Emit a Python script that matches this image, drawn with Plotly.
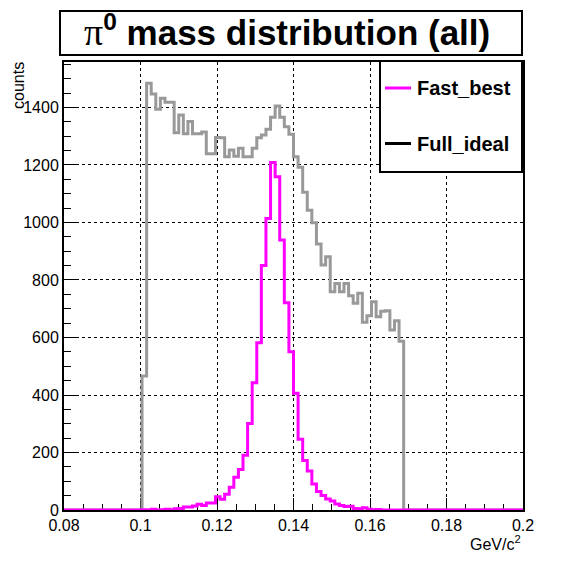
import numpy as np
import plotly.graph_objects as go

# pi0 mass, 100 bins between 0.08 and 0.2 GeV/c^2
bin_lo = 0.08
bin_hi = 0.2
n_bins = 100

full_ideal = [0, 0, 0, 0, 0, 0, 0, 0, 0, 0,
              0, 0, 0, 0, 0, 0, 0, 466, 1484, 1447,
              1394, 1432, 1418, 1418, 1312, 1374, 1309, 1351, 1309, 1309,
              1315, 1239, 1239, 1296, 1295, 1229, 1252, 1230, 1258, 1229,
              1229, 1258, 1295, 1304, 1324, 1366, 1405, 1366, 1333, 1307,
              1229, 1192, 1105, 1043, 999, 925, 852, 881, 759, 788,
              759, 788, 745, 719, 754, 653, 676, 724, 672, 691,
              693, 626, 658, 587, 0, 0, 0, 0, 0, 0,
              0, 0, 0, 0, 0, 0, 0, 0, 0, 0,
              0, 0, 0, 0, 0, 0, 0, 0, 0, 0]

fast_best = [0, 0, 0, 0, 0, 0, 0, 0, 0, 0,
             0, 0, 0, 0, 0, 0, 0, 1, 0, 3,
             0, 1, 3, 1, 4, 5, 10, 10, 14, 20,
             16, 24, 24, 46, 37, 55, 79, 114, 141, 190,
             301, 443, 582, 850, 1014, 1209, 1159, 939, 721, 550,
             406, 246, 172, 136, 90, 64, 50, 38, 31, 21,
             16, 12, 13, 5, 4, 8, 3, 1, 2, 0,
             0, 0, 0, 0, 0, 0, 0, 0, 0, 0,
             0, 0, 0, 0, 0, 0, 0, 0, 0, 0,
             0, 0, 0, 0, 0, 0, 0, 0, 0, 0]

edges = np.linspace(bin_lo, bin_hi, n_bins + 1)
font = "Liberation Sans"


def step(counts):
    # ROOT-like outline: value held over each bin
    return list(counts) + [counts[-1]]


fig = go.Figure()
fig.add_trace(go.Scatter(x=edges, y=step(full_ideal), mode="lines", line_shape="hv",
                         line=dict(color="#999999", width=3), name="Full_ideal"))
fig.add_trace(go.Scatter(x=edges, y=step(fast_best), mode="lines", line_shape="hv",
                         line=dict(color="#ff00ff", width=3), name="Fast_best"))

ymax = 1.05 * max(full_ideal)

fig.update_xaxes(range=[bin_lo, bin_hi], tick0=0.08, dtick=0.02,
                 ticks="inside", ticklen=12, tickwidth=1, tickcolor="black",
                 minor=dict(ticks="inside", ticklen=6, dtick=0.005, tickcolor="black", showgrid=False),
                 showline=True, linecolor="black", linewidth=2, mirror=True,
                 showgrid=True, gridcolor="black", griddash="dot", gridwidth=1,
                 zeroline=False, layer="below traces",
                 tickfont=dict(family=font, size=16, color="black"))
fig.update_yaxes(range=[0, ymax], tick0=0, dtick=200,
                 ticks="inside", ticklen=14, tickwidth=1, tickcolor="black",
                 minor=dict(ticks="inside", ticklen=7, dtick=50, tickcolor="black", showgrid=False),
                 showline=True, linecolor="black", linewidth=2, mirror=True,
                 showgrid=True, gridcolor="black", griddash="dot", gridwidth=1,
                 zeroline=False, layer="below traces",
                 tickfont=dict(family=font, size=16, color="black"))


# page pixel -> paper coords (plot area spans x 64..523, y 62..510 on the page)
def px_x(p):
    return (p - 64) / 459.0


def px_y(p):
    return (510 - p) / 448.0


shapes = [
    # title box
    dict(type="rect", xref="paper", yref="paper", x0=px_x(60), x1=px_x(522), y0=px_y(55), y1=px_y(11),
         line=dict(color="black", width=2), fillcolor="white"),
    # legend box
    dict(type="rect", xref="paper", yref="paper", x0=px_x(380), x1=px_x(522), y0=px_y(172), y1=px_y(61),
         line=dict(color="black", width=2), fillcolor="white", layer="above"),
    dict(type="line", xref="paper", yref="paper", x0=px_x(385), x1=px_x(411), y0=px_y(88), y1=px_y(88),
         line=dict(color="#ff00ff", width=3)),
    dict(type="line", xref="paper", yref="paper", x0=px_x(385), x1=px_x(411), y0=px_y(143.5), y1=px_y(143.5),
         line=dict(color="black", width=3)),
]

annotations = [
    dict(text='<span style="font-family:Liberation Serif;font-size:38px">π</span><sup><b>0</b></sup><b> mass distribution (all)</b>',
         xref="paper", yref="paper", x=px_x(287), y=px_y(31), showarrow=False,
         xanchor="center", yanchor="middle", font=dict(family=font, size=35, color="black")),
    dict(text="<b>Fast_best</b>", xref="paper", yref="paper", x=px_x(415), y=px_y(88), showarrow=False,
         xanchor="left", yanchor="middle", font=dict(family=font, size=20, color="black")),
    dict(text="<b>Full_ideal</b>", xref="paper", yref="paper", x=px_x(415), y=px_y(143.5), showarrow=False,
         xanchor="left", yanchor="middle", font=dict(family=font, size=20, color="black")),
    dict(text="counts", xref="paper", yref="paper", x=px_x(18), y=px_y(86), showarrow=False,
         textangle=-90, xanchor="center", yanchor="middle", font=dict(family=font, size=16, color="black")),
    dict(text="GeV/c<sup>2</sup>", xref="paper", yref="paper", x=px_x(523), y=px_y(543), showarrow=False,
         xanchor="right", yanchor="middle", font=dict(family=font, size=16, color="black")),
]

# the page body adds an 8px offset, so the figure is 556 wide with matching margins
fig.update_layout(width=556, height=556, margin=dict(l=56, r=41, t=54, b=54),
                  paper_bgcolor="white", plot_bgcolor="white", showlegend=False,
                  shapes=shapes, annotations=annotations)

fig.write_html("out.html")
